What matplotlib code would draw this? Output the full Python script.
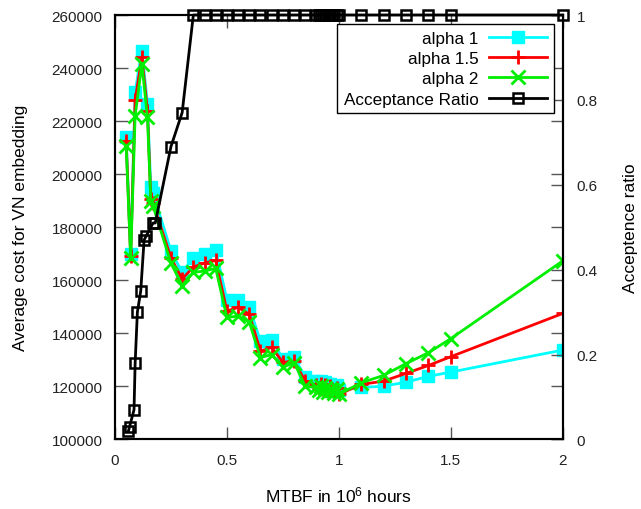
import matplotlib
matplotlib.use('Agg')
import matplotlib.pyplot as plt

plt.rcParams['font.family'] = ['Liberation Sans', 'DejaVu Sans']
plt.rcParams['mathtext.default'] = 'regular'

# MTBF (10^6 hours) for the cost curves
cost_x = [0.05, 0.07, 0.09, 0.12, 0.145, 0.16, 0.17, 0.25, 0.3, 0.35, 0.4, 0.45,
          0.5, 0.55, 0.6, 0.65, 0.7, 0.75, 0.8, 0.85,
          0.9, 0.91, 0.92, 0.93, 0.94, 0.95, 0.96, 0.97, 0.98, 0.99, 1.0,
          1.1, 1.2, 1.3, 1.4, 1.5, 2.0]

alpha1 = [214000, 170000, 231000, 246500, 226500, 195000, 193000, 171000, 163000, 168500, 170000, 171500,
          152500, 152500, 150000, 137000, 137500, 130500, 131000, 123500,
          122000, 121000, 122000, 120500, 121500, 120000, 121000, 120000, 119500, 120500, 118500,
          119600, 120100, 121600, 123800, 125400, 133700]
alpha15 = [212500, 169000, 228000, 244000, 224000, 190500, 189000, 168500, 160500, 165000, 166500, 167500,
           148400, 149800, 147200, 133300, 134700, 129100, 129500, 122000,
           120500, 119500, 121000, 119000, 120500, 118500, 120000, 119000, 118000, 119500, 117000,
           120750, 122000, 124900, 127900, 131200, 147500]
alpha2 = [210500, 168500, 222000, 241500, 221500, 190000, 188000, 166500, 158000, 163000, 163500, 164500,
          146000, 146500, 144200, 130900, 132000, 127200, 129000, 120100,
          119600, 118500, 120000, 118000, 119500, 118000, 119000, 118500, 117500, 119000, 117000,
          121400, 124150, 128600, 132700, 138000, 167300]

# acceptance ratio curve
ratio_x = [0.06, 0.065, 0.085, 0.09, 0.1, 0.115, 0.13, 0.14, 0.17, 0.18, 0.25, 0.3, 0.35,
           0.4, 0.45, 0.5, 0.55, 0.6, 0.65, 0.7, 0.75, 0.8, 0.85,
           0.9, 0.91, 0.92, 0.93, 0.94, 0.95, 0.96, 0.97, 0.98, 0.99, 1.0,
           1.1, 1.2, 1.3, 1.4, 1.5, 2.0]
ratio = [0.02, 0.03, 0.07, 0.18, 0.30, 0.35, 0.47, 0.48, 0.51, 0.51, 0.69, 0.77, 1.0,
         1.0, 1.0, 1.0, 1.0, 1.0, 1.0, 1.0, 1.0, 1.0, 1.0,
         1.0, 1.0, 1.0, 1.0, 1.0, 1.0, 1.0, 1.0, 1.0, 1.0, 1.0,
         1.0, 1.0, 1.0, 1.0, 1.0, 1.0]

cost_ticks = [100000, 120000, 140000, 160000, 180000, 200000, 220000, 240000, 260000]
ratio_ticks = [0, 0.2, 0.4, 0.6, 0.8, 1]
ratio_labels = ['0', '0.2', '0.4', '0.6', '0.8', '1']
x_ticks = [0, 0.5, 1, 1.5, 2]
x_labels = ['0', '0.5', '1', '1.5', '2']

fig = plt.figure(figsize=(6.41, 5.10), dpi=100)
ax = fig.add_axes([0.1794, 0.1363, 0.6984, 0.8323])
ax2 = ax.twinx()

l1, = ax.plot(cost_x, alpha1, color='#00ffff', lw=2, marker='s', ms=9, mec='#00ffff', label='alpha 1')
l2, = ax.plot(cost_x, alpha15, color='#ff0000', lw=2, marker='+', ms=10, mew=2, label='alpha 1.5')
l3, = ax.plot(cost_x, alpha2, color='#00ee00', lw=2, marker='x', ms=9.5, mew=2, label='alpha 2')
l4, = ax2.plot(ratio_x, ratio, color='black', lw=2, marker='s', ms=7, mfc='none', mew=1.8,
               label='Acceptance Ratio', clip_on=False)

ax.set_xlim(0, 2)
ax.set_ylim(100000, 260000)
ax2.set_ylim(0, 1)

ax.set_xticks(x_ticks)
ax.set_xticklabels(x_labels)
ax.set_yticks(cost_ticks)
ax2.set_yticks(ratio_ticks)
ax2.set_yticklabels(ratio_labels)

ax.tick_params(axis='both', direction='in', length=9, width=1, color='#555555',
               top=True, right=True, labelsize=11, labelcolor='#222222')
ax.tick_params(axis='x', pad=10)
ax.tick_params(axis='y', pad=9)
ax2.tick_params(axis='y', direction='in', length=9, width=1, color='#555555',
                labelsize=11, labelcolor='#222222', pad=10)

for a in (ax, ax2):
    for s in a.spines.values():
        s.set_linewidth(1.5)
        s.set_color('black')

ax.set_xlabel('MTBF in 10$^6$ hours', fontsize=12.5, labelpad=12)
ax.set_ylabel('Average cost for VN embedding', fontsize=12.5, labelpad=17)
ax2.set_ylabel('Acceptence ratio', fontsize=12.5, labelpad=18)

leg = ax2.legend([l1, l2, l3, l4], ['alpha 1', 'alpha 1.5', 'alpha 2', 'Acceptance Ratio'],
                 loc='upper right', bbox_to_anchor=(0.98, 0.978), markerfirst=False,
                 fancybox=False, framealpha=1, edgecolor='black', fontsize=12.3,
                 handlelength=3.4, labelspacing=0.3, borderpad=0.4, handletextpad=0.6,
                 borderaxespad=0)
leg.get_frame().set_linewidth(1)

fig.savefig('out.png', dpi=100)
